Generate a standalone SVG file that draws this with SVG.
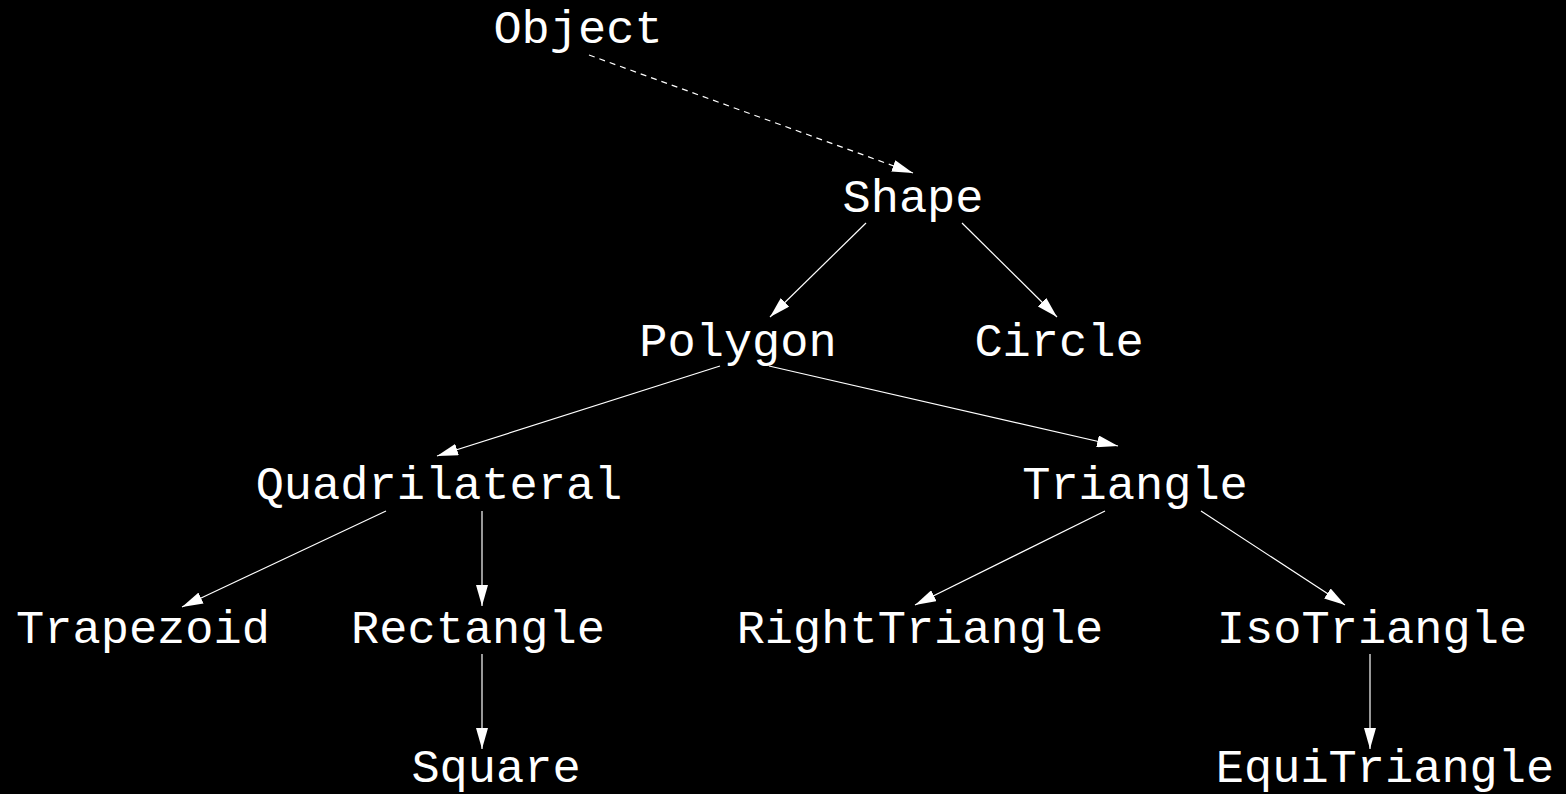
<svg xmlns="http://www.w3.org/2000/svg" width="1566" height="794" viewBox="0 0 1566 794">
<style>
text{font-family:"Liberation Mono","Courier New",monospace;font-size:47px;fill:#fff;text-anchor:middle}
.e{stroke:#fff;stroke-width:1.2;fill:none;marker-end:url(#ah)}
.d{stroke-dasharray:6 5}
</style>
<defs>
<marker id="ah" markerUnits="userSpaceOnUse" markerWidth="22" markerHeight="12" viewBox="0 0 22 12" refX="21" refY="6" orient="auto">
<path d="M0,0 L21,6 L0,12 Z" fill="#fff"/>
</marker>
</defs>
<rect width="1566" height="794" fill="#000"/>
<g id="connectors">
<line class="e d" x1="589" y1="55" x2="913" y2="173"/>
<line class="e" x1="866" y1="223" x2="770" y2="317"/>
<line class="e" x1="962" y1="223" x2="1057" y2="317"/>
<line class="e" x1="720" y1="366" x2="437" y2="456"/>
<line class="e" x1="769" y1="366" x2="1118" y2="446"/>
<line class="e" x1="386" y1="511" x2="182" y2="607"/>
<line class="e" x1="482" y1="511" x2="482" y2="606"/>
<line class="e" x1="482" y1="654" x2="482" y2="749"/>
<line class="e" x1="1105" y1="511" x2="915" y2="605"/>
<line class="e" x1="1201" y1="511" x2="1345" y2="605"/>
<line class="e" x1="1370" y1="654" x2="1370" y2="749"/>
</g>
<g id="Object"><text x="578" y="43">Object</text></g>
<g id="Shape"><text x="913" y="212">Shape</text></g>
<g id="Polygon"><text x="738" y="356">Polygon</text></g>
<g id="Circle"><text x="1059" y="356">Circle</text></g>
<g id="Quadrilateral"><text x="439" y="499">Quadrilateral</text></g>
<g id="Triangle"><text x="1135" y="499">Triangle</text></g>
<g id="Trapezoid"><text x="143" y="643">Trapezoid</text></g>
<g id="Rectangle"><text x="478" y="643">Rectangle</text></g>
<g id="RightTriangle"><text x="920" y="643">RightTriangle</text></g>
<g id="IsoTriangle"><text x="1372" y="643">IsoTriangle</text></g>
<g id="Square"><text x="496" y="782">Square</text></g>
<g id="EquiTriangle"><text x="1385" y="782">EquiTriangle</text></g>
</svg>
